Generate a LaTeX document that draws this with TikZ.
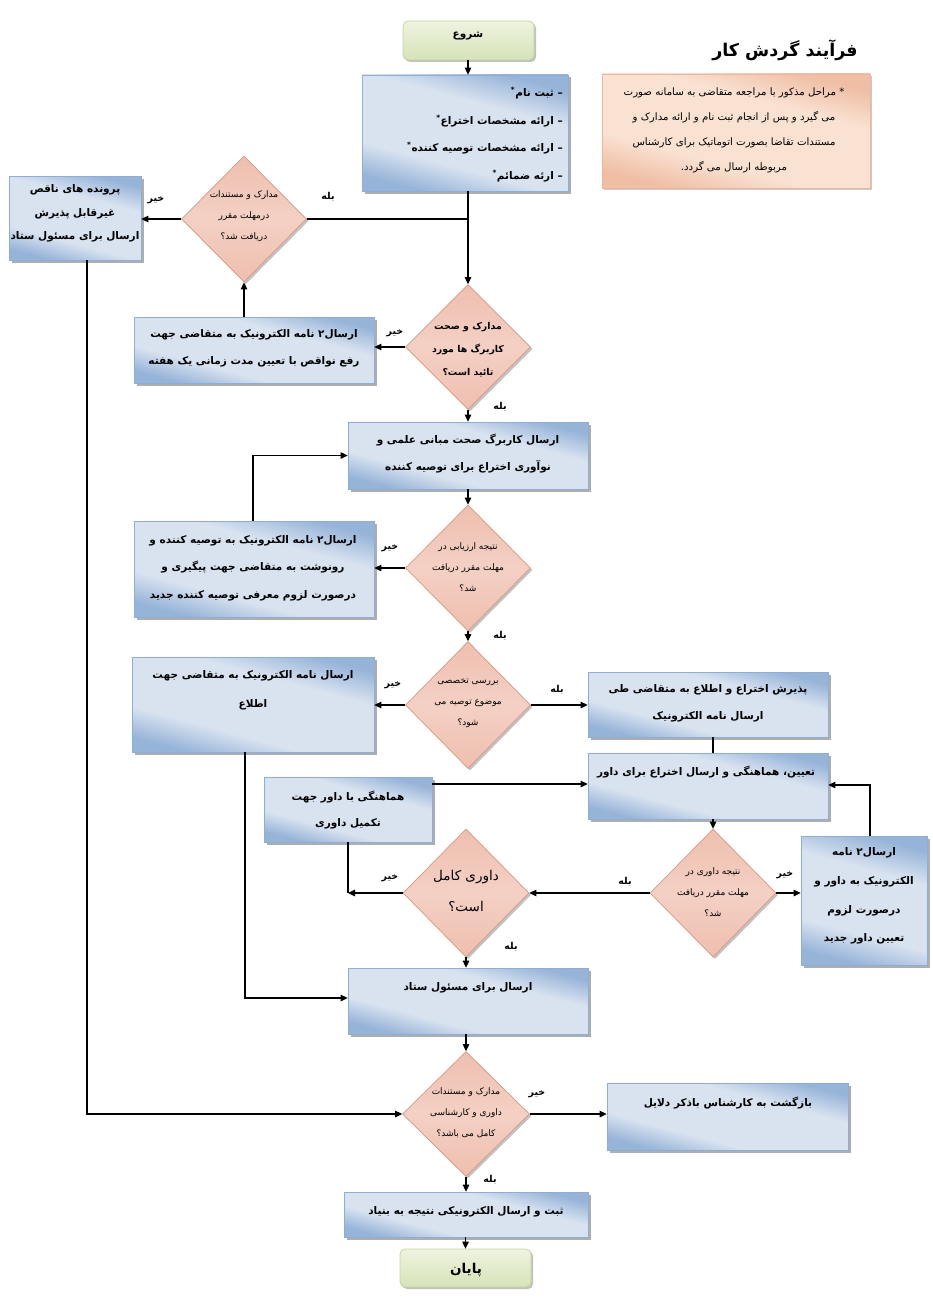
\documentclass[tikz,border=0pt]{standalone}
\usepackage{fontspec}
\newfontfamily\arabicfont[Script=Arabic]{DejaVu Sans}
\TeXXeTstate=1
\usetikzlibrary{shapes.geometric,shadows,arrows.meta}
\newcommand{\fa}[1]{\beginR #1\endR}
\definecolor{boxlight}{HTML}{D9E3F0}
\definecolor{boxdark}{HTML}{96B3D8}
\definecolor{boxline}{HTML}{8DAED6}
\definecolor{dialight}{HTML}{F4D0C4}
\definecolor{diadark}{HTML}{EEBFAF}
\definecolor{dialine}{HTML}{D59A86}
\definecolor{termlight}{HTML}{EEF3DF}
\definecolor{termdark}{HTML}{D6E3B8}
\definecolor{termline}{HTML}{C2D59A}
\definecolor{notelight}{HTML}{FAE2D3}
\definecolor{notedark}{HTML}{EFBEA4}
\definecolor{noteline}{HTML}{EDB79B}
\pgfdeclareverticalshading{boxshade}{100bp}{color(0bp)=(boxdark); color(25bp)=(boxdark); color(37bp)=(boxlight); color(62bp)=(boxlight); color(75bp)=(boxdark); color(100bp)=(boxdark)}
\pgfdeclareverticalshading{noteshade}{100bp}{color(0bp)=(notedark); color(25bp)=(notedark); color(38bp)=(notelight); color(62bp)=(notelight); color(75bp)=(notedark); color(100bp)=(notedark)}
\tikzset{
  procbox/.style={draw=boxline, line width=0.7pt, shading=boxshade, shading angle=-15,
    drop shadow={shadow xshift=2.5pt, shadow yshift=-2.5pt, fill=black!45, opacity=0.7}, inner sep=0pt},
  decision/.style={diamond, draw=dialine, line width=0.7pt, top color=diadark, bottom color=diadark, middle color=dialight,
    drop shadow={shadow xshift=2pt, shadow yshift=-2pt, fill=black!40, opacity=0.6}, inner sep=0pt},
  terminal/.style={draw=termline, line width=0.7pt, rounded corners=5pt, top color=termlight, bottom color=termdark,
    drop shadow={shadow xshift=2pt, shadow yshift=-2pt, fill=black!40, opacity=0.6}, inner sep=0pt},
  notebox/.style={draw=noteline, line width=0.7pt, shading=noteshade, shading angle=-15,
    drop shadow={shadow xshift=2pt, shadow yshift=-2pt, fill=black!35, opacity=0.6}, inner sep=0pt},
  btext/.style={font=\arabicfont\bfseries\fontsize{10.5}{27.5}\selectfont, align=center, inner sep=0pt},
  dtext/.style={font=\arabicfont\fontsize{9}{21}\selectfont, align=center, inner sep=0pt},
  ntext/.style={font=\arabicfont\fontsize{10.2}{25}\selectfont, align=center, inner sep=0pt},
  lbl/.style={font=\arabicfont\bfseries\fontsize{9.5}{11}\selectfont, inner sep=0pt},
  arr/.style={-{Triangle[length=7pt,width=6.5pt]}, line width=1.1pt},
  ln/.style={line width=1.1pt}
}
\begin{document}
\begin{tikzpicture}[x=1pt,y=-1pt]
\useasboundingbox (0,0) rectangle (933,1311);
% terminals
\node[terminal, minimum width=131pt, minimum height=39pt] (start) at (468.5,40.5) {};
\node[btext, font=\arabicfont\bfseries\fontsize{10.5}{12}\selectfont] (tstart) at (468,36) {\fa{شروع}};
\node[terminal, minimum width=131pt, minimum height=38pt] (end) at (465.5,1268) {};
\node[btext, font=\arabicfont\bfseries\fontsize{13.5}{15}\selectfont] (tend) at (466,1270) {\fa{پایان}};
% title and note
\node[font=\arabicfont\bfseries\fontsize{17.5}{19}\selectfont, inner sep=0pt] (title) at (785,50) {\fa{فرآیند گردش کار}};
\node[notebox, minimum width=268pt, minimum height=114pt] (note) at (736,131) {};
\node[ntext] (tnote) at (734,130.5) {\fa{* مراحل مذکور با مراجعه متقاضی به سامانه صورت}\\\fa{می گیرد و پس از انجام ثبت نام و ارائه مدارک و}\\\fa{مستندات تقاضا بصورت اتوماتیک برای کارشناس}\\\fa{مربوطه ارسال می گردد.}};
% process boxes
\node[procbox, minimum width=206pt, minimum height=116pt] (box1) at (465,133) {};
\node[btext, align=right, anchor=east] (tbox1) at (563,134.5) {\fa{– ثبت نام\textsuperscript{*}}\\\fa{– ارائه مشخصات اختراع\textsuperscript{*}}\\\fa{– ارائه مشخصات توصیه کننده\textsuperscript{*}}\\\fa{– ارئه ضمائم\textsuperscript{*}}};
\node[procbox, minimum width=132pt, minimum height=84pt] (boxL) at (75,218) {};
\node[btext, font=\arabicfont\bfseries\fontsize{10.5}{23.5}\selectfont] (tboxL) at (75,213.5) {\fa{پرونده های ناقص}\\\fa{غیرقابل پذیرش}\\\fa{ارسال برای مسئول ستاد}};
\node[procbox, minimum width=240pt, minimum height=66pt] (box2) at (254,350) {};
\node[btext] (tbox2) at (254,348.5) {\fa{ارسال۲ نامه الکترونیک به متقاضی جهت}\\\fa{رفع نواقص با تعیین مدت زمانی یک هفته}};
\node[procbox, minimum width=240pt, minimum height=67pt] (box3) at (468,455.5) {};
\node[btext] (tbox3) at (468,453.5) {\fa{ارسال کاربرگ صحت مبانی علمی و}\\\fa{نوآوری اختراع برای توصیه کننده}};
\node[procbox, minimum width=240pt, minimum height=96pt] (box4) at (254,569) {};
\node[btext] (tbox4) at (253,568) {\fa{ارسال۲ نامه الکترونیک به توصیه کننده و}\\\fa{رونوشت به متقاضی جهت پیگیری و}\\\fa{درصورت لزوم معرفی توصیه کننده جدید}};
\node[procbox, minimum width=242pt, minimum height=95pt] (box5) at (253,704.5) {};
\node[btext, font=\arabicfont\bfseries\fontsize{10.5}{29}\selectfont] (tbox5) at (253,690.5) {\fa{ارسال نامه الکترونیک به متقاضی جهت}\\\fa{اطلاع}};
\node[procbox, minimum width=240pt, minimum height=65pt] (box6) at (708,704.5) {};
\node[btext] (tbox6) at (708,703.5) {\fa{پذیرش اختراع و اطلاع به متقاضی طی}\\\fa{ارسال نامه الکترونیک}};
\node[procbox, minimum width=240pt, minimum height=66pt] (box7) at (708,786) {};
\node[btext] (tbox7) at (706,772) {\fa{تعیین، هماهنگی و ارسال اختراع برای داور}};
\node[procbox, minimum width=168pt, minimum height=65pt] (box8) at (348,809.5) {};
\node[btext, font=\arabicfont\bfseries\fontsize{10.5}{26}\selectfont] (tbox8) at (348,810) {\fa{هماهنگی با داور جهت}\\\fa{تکمیل داوری}};
\node[procbox, minimum width=126pt, minimum height=129pt] (box9) at (864,900.5) {};
\node[btext, font=\arabicfont\bfseries\fontsize{10.5}{28.7}\selectfont] (tbox9) at (864,896) {\fa{ارسال۲ نامه}\\\fa{الکترونیک به داور و}\\\fa{درصورت لزوم}\\\fa{تعیین داور جدید}};
\node[procbox, minimum width=240pt, minimum height=66pt] (box10) at (468,1001) {};
\node[btext] (tbox10) at (468,988) {\fa{ارسال برای مسئول ستاد}};
\node[procbox, minimum width=241pt, minimum height=67pt] (box11) at (727.5,1116.5) {};
\node[btext] (tbox11) at (728,1103) {\fa{بازگشت به کارشناس باذکر دلایل}};
\node[procbox, minimum width=244pt, minimum height=45pt] (box12) at (466,1214.5) {};
\node[btext] (tbox12) at (466,1212) {\fa{ثبت و ارسال الکترونیکی نتیجه به بنیاد}};
% decisions
\node[decision, minimum width=125pt, minimum height=126pt] (d1) at (244,219) {};
\node[dtext] (td1) at (244,216.5) {\fa{مدارک و مستندات}\\\fa{درمهلت مقرر}\\\fa{دریافت شد؟}};
\node[decision, minimum width=125pt, minimum height=125pt] (d2) at (468,347) {};
\node[dtext, font=\arabicfont\bfseries\fontsize{9.4}{23}\selectfont] (td2) at (468,350) {\fa{مدارک و صحت}\\\fa{کاربرگ ها مورد}\\\fa{تائید است؟}};
\node[decision, minimum width=125pt, minimum height=126pt] (d3) at (468,568) {};
\node[dtext] (td3) at (468,567.5) {\fa{نتیجه ارزیابی در}\\\fa{مهلت مقرر دریافت}\\\fa{شد؟}};
\node[decision, minimum width=125pt, minimum height=127pt] (d4) at (468,705) {};
\node[dtext] (td4) at (468,703) {\fa{بررسی تخصصی}\\\fa{موضوع توصیه می}\\\fa{شود؟}};
\node[decision, minimum width=126pt, minimum height=128pt] (d5) at (713,893) {};
\node[dtext] (td5) at (713,892) {\fa{نتیجه داوری در}\\\fa{مهلت مقرر دریافت}\\\fa{شد؟}};
\node[decision, minimum width=126pt, minimum height=128pt] (d6) at (466,893) {};
\node[dtext, font=\arabicfont\fontsize{13.5}{31}\selectfont] (td6) at (466,890.5) {\fa{داوری کامل}\\\fa{است؟}};
\node[decision, minimum width=127pt, minimum height=125pt] (d7) at (466,1114) {};
\node[dtext] (td7) at (466,1113) {\fa{مدارک و مستندات}\\\fa{داوری و کارشناسی}\\\fa{کامل می باشد؟}};
% helper coordinates
\coordinate (cL) at (87,1114);
\coordinate (c4) at (253,455.5);
\coordinate (c9) at (870,785);
\coordinate (c6) at (348,893);
\coordinate (c5) at (245,998);
% connectors
\draw[arr] (start.south -| 468,0) -- (box1.north -| 468,0);
\draw[arr] (box1.south -| d2.north) -- (d2.north);
\draw[ln] (d1.east) -- (d1.east -| d2.north);
\draw[arr] (d1.west) -- (boxL.east |- d1.west);
\draw[arr] (boxL.south -| cL) -- (cL) -- (d7.west);
\draw[arr] (d2.west) -- (box2.east |- d2.west);
\draw[arr] (box2.north -| d1.south) -- (d1.south);
\draw[arr] (d2.south) -- (box3.north -| d2.south);
\draw[arr] (box3.south -| d3.north) -- (d3.north);
\draw[arr] (d3.west) -- (box4.east |- d3.west);
\draw[arr] (box4.north -| c4) -- (c4) -- (box3.west);
\draw[arr] (d3.south) -- (d4.north);
\draw[arr] (d4.west) -- (box5.east |- d4.west);
\draw[arr] (d4.east) -- (box6.west |- d4.east);
\draw[ln] (box6.south -| d5.north) -- (box7.north -| d5.north);
\draw[arr] (box7.south -| d5.north) -- (d5.north);
\draw[arr] (box8.east |- 0,784) -- (box7.west |- 0,784);
\draw[arr] (d5.east) -- (box9.west |- d5.east);
\draw[arr] (box9.north -| c9) -- (c9) -- (box7.east |- c9);
\draw[arr] (d5.west) -- (d6.east);
\draw[arr] (d6.west) -- (c6);
\draw[ln] (box8.south) -- (c6);
\draw[arr] (d6.south) -- (box10.north -| d6.south);
\draw[arr] (box5.south -| c5) -- (c5) -- (box10.west |- c5);
\draw[arr] (box10.south -| d7.north) -- (d7.north);
\draw[arr] (d7.east) -- (box11.west |- d7.east);
\draw[arr] (d7.south) -- (box12.north -| d7.south);
\draw[arr] (box12.south -| end.north) -- (end.north);
% labels
\node[lbl] (l1) at (328,197) {\fa{بله}};
\node[lbl] (l2) at (156,200) {\fa{خیر}};
\node[lbl] (l3) at (395,333) {\fa{خیر}};
\node[lbl] (l4) at (500,407) {\fa{بله}};
\node[lbl] (l5) at (390,548) {\fa{خیر}};
\node[lbl] (l6) at (500,636) {\fa{بله}};
\node[lbl] (l7) at (393,685) {\fa{خیر}};
\node[lbl] (l8) at (557,690) {\fa{بله}};
\node[lbl] (l9) at (785,875) {\fa{خیر}};
\node[lbl] (l10) at (625,882) {\fa{بله}};
\node[lbl] (l11) at (390,878) {\fa{خیر}};
\node[lbl] (l12) at (511,947) {\fa{بله}};
\node[lbl] (l13) at (537,1094) {\fa{خیر}};
\node[lbl] (l14) at (490,1180) {\fa{بله}};
\end{tikzpicture}
\end{document}
